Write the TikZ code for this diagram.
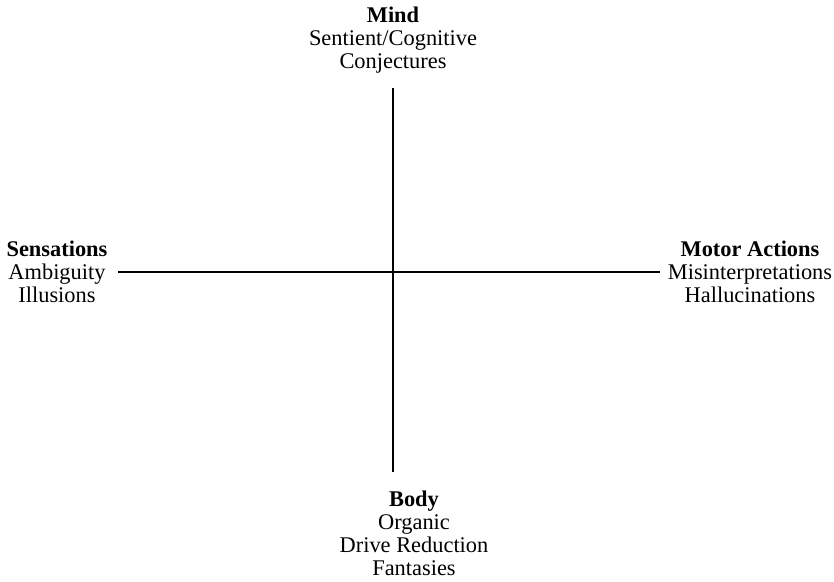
\documentclass[tikz,border=0pt]{standalone}
\usepackage{fontspec}
\setmainfont{Liberation Serif}
\begin{document}
\begin{tikzpicture}[x=1pt, y=-1pt, line width=1.6pt,
	label/.style={align=center, inner sep=0pt, anchor=base,
		font=\fontsize{22.4}{23}\selectfont}]
	\useasboundingbox (0,0) rectangle (834,581);

	% anchor=base sits on the last line
	\node(mind)[label] at (393,68.5) {\textbf{Mind}\\Sentient/Cognitive\\Conjectures};
	\node(sensations)[label] at (57,302) {\textbf{Sensations}\\Ambiguity\\Illusions};
	\node(motor)[label] at (750,302) {\textbf{Motor Actions}\\Misinterpretations\\Hallucinations};
	\node(body)[label] at (414,575.5) {\textbf{Body}\\Organic\\Drive Reduction\\Fantasies};

	\coordinate(axis-top) at (393,88);
	\coordinate(axis-bottom) at (393,472);
	\coordinate(axis-left) at (118,272);
	\coordinate(axis-right) at (660,272);

	\draw (axis-top) -- (axis-bottom);
	\draw (axis-left) -- (axis-right);
\end{tikzpicture}
\end{document}
